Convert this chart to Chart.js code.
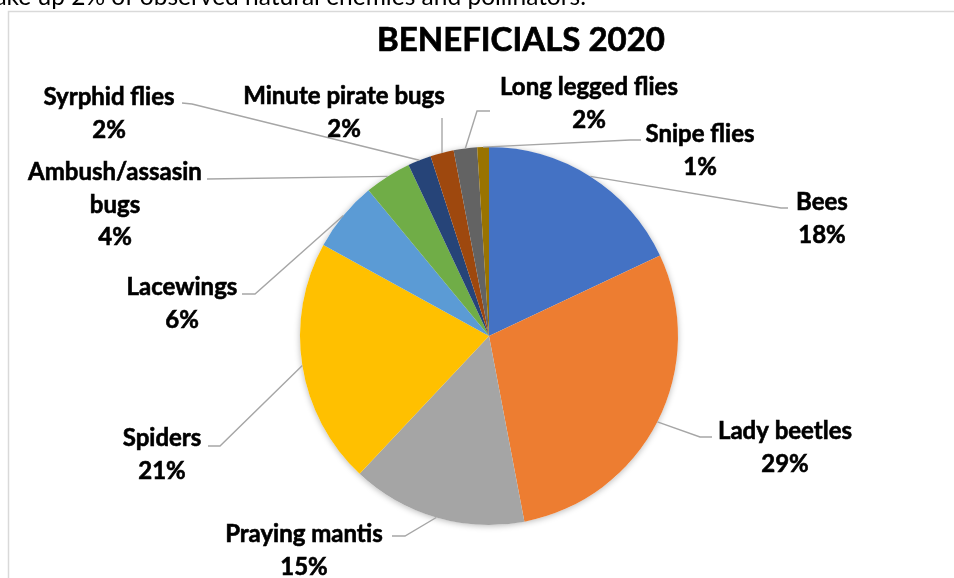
<!DOCTYPE html>
<html>
<head>
<meta charset="utf-8">
<title>Beneficials 2020</title>
<script src="https://cdn.jsdelivr.net/npm/chart.js@4.4.1/dist/chart.umd.min.js"></script>
<style>
  html, body { margin: 0; padding: 0; background: #fff; overflow: hidden; }
  .pie-wrap { position: relative; width: 954px; height: 578px; }
</style>
</head>
<body>
<div class="pie-wrap"><canvas id="beneficials"></canvas></div>
<script>
// --- data --------------------------------------------------------------------
const categories = ['Bees', 'Lady beetles', 'Praying mantis', 'Spiders', 'Lacewings',
                    'Ambush/assasin bugs', 'Syrphid flies', 'Minute pirate bugs',
                    'Long legged flies', 'Snipe flies'];
const shares = [18, 29, 15, 21, 6, 4, 2, 2, 2, 1];
const sliceColors = ['#4472C4', '#ED7D31', '#A5A5A5', '#FFC000', '#5B9BD5',
                     '#70AD47', '#264478', '#9E480E', '#636363', '#997300'];

// --- label layout: text centre, leader start and elbow -------------------------
const labelLayout = [
	{ x: 822, y: 202, sx: 788, sy: 208, ex: 781, ey: 208 },
	{ x: 785, y: 431, sx: 712, sy: 437, ex: 700, ey: 437 },
	{ x: 304, y: 534, sx: 392, sy: 536, ex: 405, ey: 536 },
	{ x: 162, y: 438, sx: 208, sy: 446, ex: 220, ey: 446 },
	{ x: 182, y: 287, sx: 242, sy: 294, ex: 255, ey: 294 },
	{ x: 115, y: 172, sx: 207, sy: 179, ex: 207, ey: 179, lines: ['Ambush/assasin', 'bugs'] },
	{ x: 109, y: 97,  sx: 182, sy: 103, ex: 192, ey: 104 },
	{ x: 344, y: 96,  sx: 442, sy: 118, ex: 442, ey: 118 },
	{ x: 589, y: 87,  sx: 490, sy: 111, ex: 477, ey: 111 },
	{ x: 700, y: 134, sx: 641, sy: 140, ex: 630, ey: 140 }
];

const LABEL_FONT = 'bold 24px Lato, "Open Sans", sans-serif';
const LINE_GAP   = 32.5;

// bold text with a hairline stroke so it reads as heavy as the title face
function heavyText(ctx, text, x, y) {
	ctx.fillText(text, x, y);
	ctx.strokeText(text, x, y);
}

// frame, clipped caption line above it, and the title
const frameAndTitle = {
	id: 'frameAndTitle',
	beforeDraw(chart) {
		const ctx = chart.ctx;
		ctx.save();
		ctx.fillStyle = '#fff';
		ctx.fillRect(0, 0, chart.width, chart.height);

		ctx.fillStyle = '#000';
		ctx.font = '24.5px Lato, "Open Sans", sans-serif';
		ctx.textAlign = 'right';
		ctx.textBaseline = 'alphabetic';
		ctx.fillText('make up 2% of observed natural enemies and pollinators.', 586, 5);

		ctx.strokeStyle = '#d9d9d9';
		ctx.lineWidth = 1.5;
		ctx.strokeRect(8.5, 11.5, 1200, 800);

		ctx.font = 'bold 33px Lato, "Open Sans", sans-serif';
		ctx.textAlign = 'center';
		ctx.strokeStyle = '#000';
		ctx.lineWidth = 0.7;
		heavyText(ctx, 'BENEFICIALS 2020', 521, 51);
		ctx.restore();
	}
};

// soft shadow under the whole pie
const pieShadow = {
	id: 'pieShadow',
	beforeDatasetsDraw(chart) {
		const arc = chart.getDatasetMeta(0).data[0];
		if (!arc) return;
		const { x, y, outerRadius } = arc.getProps(['x', 'y', 'outerRadius'], true);
		const ctx = chart.ctx;
		ctx.save();
		ctx.shadowColor = 'rgba(0,0,0,0.28)';
		ctx.shadowBlur = 6;
		ctx.shadowOffsetY = 1;
		ctx.fillStyle = '#fff';
		ctx.beginPath();
		ctx.arc(x, y, outerRadius, 0, Math.PI * 2);
		ctx.fill();
		ctx.restore();
	}
};

// data labels with leader lines running to the middle of each slice's rim
const leaderLabels = {
	id: 'leaderLabels',
	afterDatasetsDraw(chart) {
		const ctx  = chart.ctx;
		const arcs = chart.getDatasetMeta(0).data;
		ctx.save();
		arcs.forEach((arc, i) => {
			const p = arc.getProps(['x', 'y', 'startAngle', 'endAngle', 'outerRadius'], true);
			const mid = (p.startAngle + p.endAngle) / 2;
			const ax = p.x + Math.cos(mid) * p.outerRadius;
			const ay = p.y + Math.sin(mid) * p.outerRadius;
			const L = labelLayout[i];

			ctx.strokeStyle = '#a6a6a6';
			ctx.lineWidth = 1.4;
			ctx.beginPath();
			ctx.moveTo(L.sx, L.sy);
			ctx.lineTo(L.ex, L.ey);
			ctx.lineTo(ax, ay);
			ctx.stroke();

			const lines = (L.lines || [categories[i]]).concat([shares[i] + '%']);
			ctx.fillStyle = '#000';
			ctx.strokeStyle = '#000';
			ctx.lineWidth = 0.6;
			ctx.font = LABEL_FONT;
			ctx.textAlign = 'center';
			ctx.textBaseline = 'alphabetic';
			lines.forEach((t, k) => heavyText(ctx, t, L.x, L.y + 8 + k * LINE_GAP));
		});
		ctx.restore();
	}
};

new Chart(document.getElementById('beneficials'), {
	type: 'pie',
	data: {
		labels: categories,
		datasets: [{ data: shares, backgroundColor: sliceColors, borderWidth: 0 }]
	},
	options: {
		responsive: true, maintainAspectRatio: false, animation: false,
		events: [],
		layout: { padding: { left: 100, right: 76, top: 147, bottom: 53 } },
		plugins: { legend: { display: false }, tooltip: { enabled: false }, title: { display: false } }
	},
	plugins: [frameAndTitle, pieShadow, leaderLabels]
});
</script>
</body>
</html>
